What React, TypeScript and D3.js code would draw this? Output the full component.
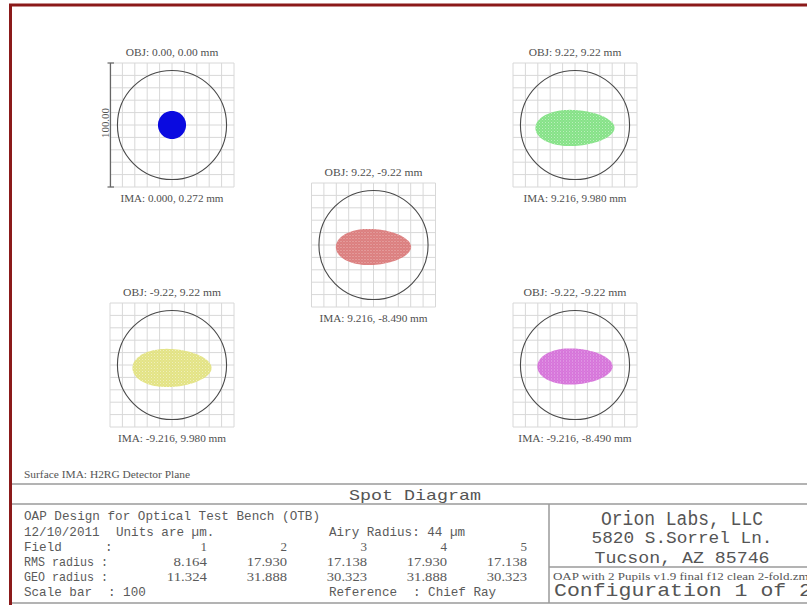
import React from "react";
import * as d3 from "d3";

// ---- data ----
const fieldNumbers = [1, 2, 3, 4, 5];
const objX = [0, 9.22, 9.22, -9.22, -9.22];
const objY = [0, 9.22, -9.22, 9.22, -9.22];
const imaX = [0.0, 9.216, 9.216, -9.216, -9.216];
const imaY = [0.272, 9.98, -8.49, 9.98, -8.49];
const rmsRadius = [8.164, 17.93, 17.138, 17.93, 17.138];
const geoRadius = [11.324, 31.888, 30.323, 31.888, 30.323];
const spotHalfHeight = [11.324, 14.5, 14.5, 15.3, 14.5]; // µm
const spotOffsetY = [0, 2.4, 1.6, 2.4, 1.2]; // µm, estimated
const panelCol = [0, 2, 1, 0, 2];
const panelRow = [0, 0, 1, 2, 2];
const spotColors = ["#0a0ae0", "#80e082", "#d97676", "#e2e17e", "#d46cd8"];
const airyRadius = 44;
const scaleBar = 100;

const serif = "'Liberation Serif', 'DejaVu Serif', serif";
const mono = "'Liberation Mono', 'DejaVu Sans Mono', monospace";

const locale = d3.formatLocale({ decimal: ".", thousands: ",", grouping: [3], currency: ["", ""], minus: "-" });

export default function App() {
  const W = 807, H = 605;
  const colX = d3.scaleLinear().domain([0, 2]).range([172, 575]);
  const rowY = d3.scaleLinear().domain([0, 2]).range([125, 365]);
  const um = d3.scaleLinear().domain([-scaleBar / 2, scaleBar / 2]).range([-62, 62]);
  const len = (v: number) => um(v) - um(0);
  const gridTicks = d3.range(-scaleBar / 2, scaleBar / 2 + 1, scaleBar / 10);
  const f2 = locale.format(".2f");
  const f3 = locale.format(".3f");
  const fieldX = d3.scaleLinear().domain([1, 5]).range([207, 527]);

  const eggPath = (rx: number, ry: number, k: number) => {
    const pts = d3.range(0, 96).map((i) => {
      const t = (i / 96) * 2 * Math.PI;
      return [rx * Math.cos(t), ry * Math.sin(t) * (1 - k * Math.cos(t))] as [number, number];
    });
    return d3.line().curve(d3.curveLinearClosed)(pts) as string;
  };

  const labelText = (s: string, x: number, y: number) => (
    <text
      x={x}
      y={y}
      textAnchor="middle"
      fontFamily={serif}
      fontSize={10}
      fill="#4f4f4f"
      textLength={s.length * 5.15}
      lengthAdjust="spacingAndGlyphs"
    >
      {s}
    </text>
  );

  const half = len(scaleBar / 2);

  return (
    <div style={{ position: "absolute", left: 0, top: 0 }}>
      <svg width={W} height={H} style={{ display: "block", background: "#fff" }}>
        <defs>
          <pattern id="speck" width="3" height="3" patternUnits="userSpaceOnUse">
            <rect x="0" y="0" width="1" height="1" fill="#fff" opacity="0.45" />
            <rect x="1.5" y="1.5" width="1" height="1" fill="#fff" opacity="0.25" />
          </pattern>
        </defs>

        {/* frame */}
        <path d={`M10.5,${H} V5 H${W}`} fill="none" stroke="#8b1a1a" strokeWidth={3} />

        {/* panels */}
        {fieldNumbers.map((f, i) => {
          const cx = colX(panelCol[i]);
          const cy = rowY(panelRow[i]);
          const objS = `OBJ: ${f2(objX[i])}, ${f2(objY[i])} mm`;
          const imaS = `IMA: ${f3(imaX[i])}, ${f3(imaY[i])} mm`;
          const rx = len(geoRadius[i]);
          const ry = len(spotHalfHeight[i]);
          const k = i === 0 ? 0 : 0.12;
          return (
            <g key={f} transform={`translate(${cx},${cy})`}>
              {gridTicks.map((t) => (
                <line key={"v" + t} x1={um(t)} x2={um(t)} y1={-half} y2={half} stroke="#d8d8d8" strokeWidth={1} />
              ))}
              {gridTicks.map((t) => (
                <line key={"h" + t} y1={um(t)} y2={um(t)} x1={-half} x2={half} stroke="#d8d8d8" strokeWidth={1} />
              ))}
              <circle r={len(airyRadius)} fill="none" stroke="#4a4a4a" strokeWidth={1.1} />
              <g transform={`translate(0,${len(spotOffsetY[i])})`}>
                <path d={eggPath(rx, ry, k)} fill={spotColors[i]} opacity={i === 0 ? 1 : 0.95} />
                {i !== 0 && <path d={eggPath(rx, ry, k)} fill="url(#speck)" />}
              </g>
              {labelText(objS, 0, -half - 7.5)}
              {labelText(imaS, 0, half + 14.5)}
            </g>
          );
        })}

        {/* scale bar on first panel */}
        <g transform={`translate(${colX(0) - half + 0.5},${rowY(0)})`}>
          <line x1={0} x2={0} y1={um(-scaleBar / 2)} y2={um(scaleBar / 2)} stroke="#666" strokeWidth={1.2} />
          <line x1={-3} x2={3.5} y1={um(-scaleBar / 2)} y2={um(-scaleBar / 2)} stroke="#666" strokeWidth={1.2} />
          <line x1={-3} x2={3.5} y1={um(scaleBar / 2)} y2={um(scaleBar / 2)} stroke="#666" strokeWidth={1.2} />
          <text
            transform="translate(-2,-2) rotate(-90)"
            textAnchor="middle"
            fontFamily={serif}
            fontSize={10}
            fill="#555"
            textLength={30}
            lengthAdjust="spacingAndGlyphs"
          >
            {f2(scaleBar)}
          </text>
        </g>

        {/* surface label */}
        <text x={24} y={477.5} fontFamily={serif} fontSize={10} fill="#555" textLength={166} lengthAdjust="spacingAndGlyphs">
          Surface IMA: H2RG Detector Plane
        </text>

        {/* table lines */}
        <g stroke="#9a9a9a" strokeWidth={1.5} fill="none">
          <line x1={12} x2={W} y1={484} y2={484} />
          <line x1={12} x2={W} y1={504} y2={504} />
          <line x1={12} x2={W} y1={603} y2={603} />
          <line x1={549} x2={549} y1={504} y2={603} />
          <line x1={549} x2={W} y1={567} y2={567} />
        </g>

        <text x={415} y={499.5} textAnchor="middle" fontFamily={mono} fontSize={15} fill="#555" textLength={132} lengthAdjust="spacingAndGlyphs">
          Spot Diagram
        </text>

        {/* left table block */}
        <g fontFamily={mono} fontSize={12.6} fill="#5a5a5a">
          <text x={24} y={519.5} textLength={296} lengthAdjust="spacingAndGlyphs">OAP Design for Optical Test Bench (OTB)</text>
          <text x={24} y={535.5}>12/10/2011</text>
          <text x={116} y={535.5}>Units are µm.</text>
          <text x={329} y={535.5}>{`Airy Radius: ${airyRadius} µm`}</text>
          <text x={24} y={550.5}>Field</text>
          <text x={105} y={550.5}>:</text>
          <text x={24} y={565.5} textLength={84} lengthAdjust="spacingAndGlyphs">RMS radius :</text>
          <text x={24} y={580.5} textLength={84} lengthAdjust="spacingAndGlyphs">GEO radius :</text>
          <text x={24} y={596}>Scale bar</text>
          <text x={108} y={596}>{`: ${scaleBar}`}</text>
          <text x={329} y={596}>Reference</text>
          <text x={413} y={596}>: Chief Ray</text>
        </g>
        <g fontFamily={serif} fontSize={13} fill="#5a5a5a" textAnchor="end">
          {fieldNumbers.map((f) => (
            <text key={"f" + f} x={fieldX(f)} y={550.5}>{f}</text>
          ))}
          {rmsRadius.map((v, i) => (
            <text key={"r" + i} x={fieldX(fieldNumbers[i])} y={565.5} textLength={f3(v).length * 6.7} lengthAdjust="spacingAndGlyphs">{f3(v)}</text>
          ))}
          {geoRadius.map((v, i) => (
            <text key={"g" + i} x={fieldX(fieldNumbers[i])} y={580.5} textLength={f3(v).length * 6.7} lengthAdjust="spacingAndGlyphs">{f3(v)}</text>
          ))}
        </g>

        {/* right block */}
        <g fontFamily={mono} fill="#555" textAnchor="middle">
          <text x={682} y={525} fontSize={20} textLength={162} lengthAdjust="spacingAndGlyphs">Orion Labs, LLC</text>
          <text x={682} y={543} fontSize={16} textLength={181} lengthAdjust="spacingAndGlyphs">5820 S.Sorrel Ln.</text>
          <text x={682} y={562.5} fontSize={16} textLength={175} lengthAdjust="spacingAndGlyphs">Tucson, AZ 85746</text>
        </g>
        <text x={553} y={580} fontFamily={serif} fontSize={10.5} fill="#555" textLength={262} lengthAdjust="spacingAndGlyphs">
          OAP with 2 Pupils v1.9 final f12 clean 2-fold.zmx
        </text>
        <text x={554} y={596} fontFamily={mono} fontSize={18} fill="#555" textLength={258} lengthAdjust="spacingAndGlyphs">
          Configuration 1 of 2
        </text>
      </svg>
    </div>
  );
}
